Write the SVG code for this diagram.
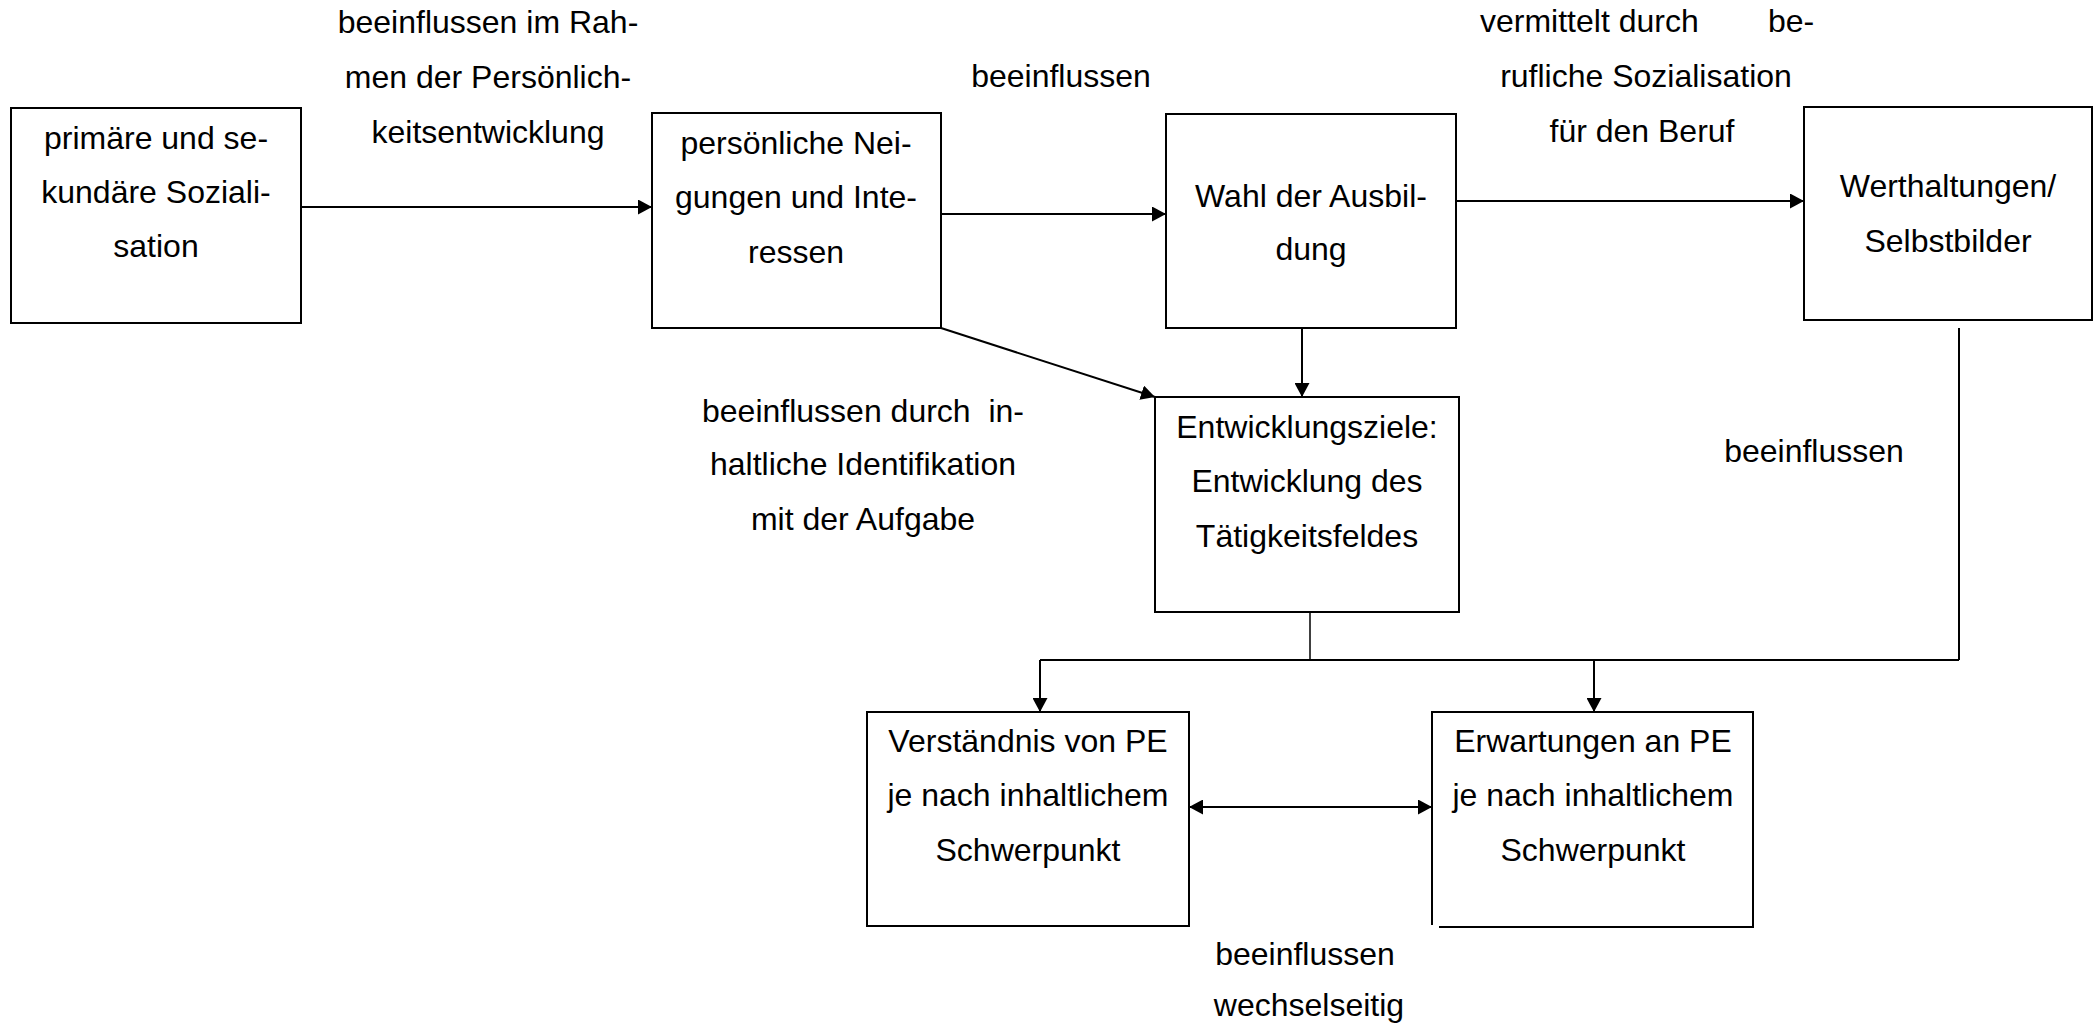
<svg xmlns="http://www.w3.org/2000/svg" width="2093" height="1029" viewBox="0 0 2093 1029">
  <style>
    .box { fill: #ffffff; stroke: #000000; stroke-width: 2; }
    .edge { fill: none; stroke: #000000; stroke-width: 2; }
    .thin { stroke-width: 1.5; }
    text { font-family: "Liberation Sans", Arial, sans-serif; font-size: 32px; fill: #000000; }
    .c { text-anchor: middle; }
    .pre { white-space: pre; }
  </style>
  <defs>
    <marker id="arrow" viewBox="0 0 14 15" refX="14" refY="7.5" markerWidth="14" markerHeight="15" markerUnits="userSpaceOnUse" orient="auto-start-reverse">
      <path d="M0,0 L14,7.5 L0,15 Z" fill="#000000"/>
    </marker>
  </defs>
  <rect width="2093" height="1029" fill="#ffffff"/>

  <!-- connectors -->
  <g id="connectors">
    <path class="edge" d="M301,207 H652" marker-end="url(#arrow)"/>
    <path class="edge" d="M941,214 H1166" marker-end="url(#arrow)"/>
    <path class="edge" d="M1456,201 H1804" marker-end="url(#arrow)"/>
    <path class="edge" d="M941,328 L1155,397" marker-end="url(#arrow)"/>
    <path class="edge" d="M1302,328 V397" marker-end="url(#arrow)"/>
    <path class="edge thin" d="M1310,612 V660"/>
    <path class="edge" d="M1040,660 H1959"/>
    <path class="edge" d="M1959,328 V660"/>
    <path class="edge" d="M1040,660 V712" marker-end="url(#arrow)"/>
    <path class="edge" d="M1594,660 V712" marker-end="url(#arrow)"/>
    <path class="edge" d="M1189,807 H1432" marker-start="url(#arrow)" marker-end="url(#arrow)"/>
  </g>

  <!-- edge labels -->
  <g id="labels">
    <text class="c" x="488" y="33">beeinflussen im Rah-</text>
    <text class="c" x="488" y="88">men der Persönlich-</text>
    <text class="c" x="488" y="143">keitsentwicklung</text>

    <text class="c" x="1061" y="87">beeinflussen</text>

    <text x="1480" y="32">vermittelt durch</text>
    <text x="1768" y="32">be-</text>
    <text class="c" x="1646" y="87">rufliche Sozialisation</text>
    <text class="c" x="1642" y="142">für den Beruf</text>

    <text class="c pre" x="863" y="422">beeinflussen durch  in-</text>
    <text class="c" x="863" y="475">haltliche Identifikation</text>
    <text class="c" x="863" y="530">mit der Aufgabe</text>

    <text class="c" x="1814" y="462">beeinflussen</text>

    <text class="c" x="1305" y="965">beeinflussen</text>
    <text class="c" x="1309" y="1016">wechselseitig</text>
  </g>

  <!-- nodes -->
  <g id="node-sozialisation">
    <rect class="box" x="11" y="108" width="290" height="215"/>
    <text class="c" x="156" y="149">primäre und se-</text>
    <text class="c" x="156" y="203">kundäre Soziali-</text>
    <text class="c" x="156" y="257">sation</text>
  </g>

  <g id="node-neigungen">
    <rect class="box" x="652" y="113" width="289" height="215"/>
    <text class="c" x="796" y="154">persönliche Nei-</text>
    <text class="c" x="796" y="208">gungen und Inte-</text>
    <text class="c" x="796" y="263">ressen</text>
  </g>

  <g id="node-ausbildung">
    <rect class="box" x="1166" y="114" width="290" height="214"/>
    <text class="c" x="1311" y="207">Wahl der Ausbil-</text>
    <text class="c" x="1311" y="260">dung</text>
  </g>

  <g id="node-werthaltungen">
    <rect class="box" x="1804" y="107" width="288" height="213"/>
    <text class="c" x="1948" y="197">Werthaltungen/</text>
    <text class="c" x="1948" y="252">Selbstbilder</text>
  </g>

  <g id="node-entwicklungsziele">
    <rect class="box" x="1155" y="397" width="304" height="215"/>
    <text class="c" x="1307" y="438">Entwicklungsziele:</text>
    <text class="c" x="1307" y="492">Entwicklung des</text>
    <text class="c" x="1307" y="547">Tätigkeitsfeldes</text>
  </g>

  <g id="node-verstaendnis">
    <rect class="box" x="867" y="712" width="322" height="214"/>
    <text class="c" x="1028" y="752">Verständnis von PE</text>
    <text class="c" x="1028" y="806">je nach inhaltlichem</text>
    <text class="c" x="1028" y="861">Schwerpunkt</text>
  </g>

  <g id="node-erwartungen">
    <rect x="1432" y="712" width="321" height="214" fill="#ffffff"/>
    <path class="edge" d="M1432,925 V712 H1753 V927 H1439"/>
    <text class="c" x="1593" y="752">Erwartungen an PE</text>
    <text class="c" x="1593" y="806">je nach inhaltlichem</text>
    <text class="c" x="1593" y="861">Schwerpunkt</text>
  </g>
</svg>
